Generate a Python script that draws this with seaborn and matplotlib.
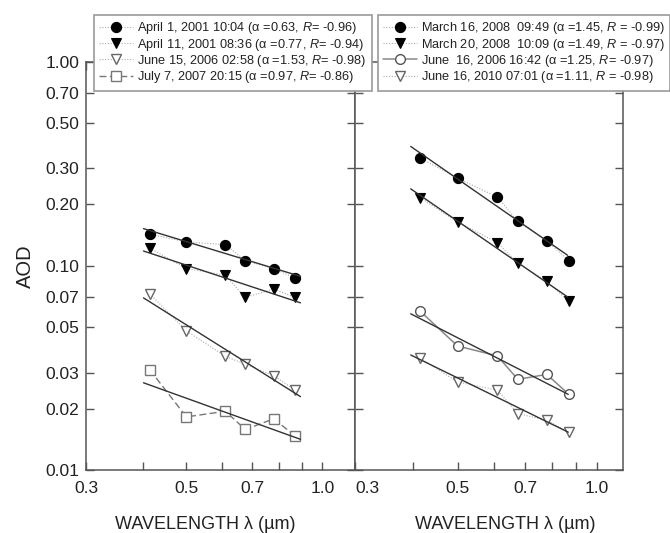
import numpy as np
import pandas as pd
import matplotlib
matplotlib.use("Agg")
import matplotlib.pyplot as plt
import seaborn as sns
from matplotlib.ticker import FixedLocator, FixedFormatter, NullLocator

# ---------------- data ----------------
wavelength = [0.415, 0.5, 0.61, 0.675, 0.78, 0.87]

# left panel
apr01_2001 = [0.143, 0.131, 0.127, 0.106, 0.097, 0.087]
apr11_2001 = [0.122, 0.097, 0.090, 0.070, 0.077, 0.070]
jun15_2006 = [0.073, 0.048, 0.036, 0.033, 0.029, 0.0246]
jul07_2007 = [0.031, 0.0182, 0.0194, 0.0158, 0.0178, 0.0147]
left_labels = [
    "April 1, 2001 10:04 (\u03b1 =0.63, $R$= -0.96)",
    "April 11, 2001 08:36 (\u03b1 =0.77, $R$= -0.94)",
    "June 15, 2006 02:58 (\u03b1 =1.53, $R$= -0.98)",
    "July 7, 2007 20:15 (\u03b1 =0.97, $R$= -0.86)",
]

# right panel
mar16_2008 = [0.338, 0.269, 0.217, 0.165, 0.1325, 0.106]
mar20_2008 = [0.216, 0.164, 0.130, 0.103, 0.084, 0.067]
jun16_2006 = [0.060, 0.0405, 0.0362, 0.0278, 0.0294, 0.0235]
jun16_2010 = [0.0353, 0.027, 0.0246, 0.0189, 0.0175, 0.0153]
right_labels = [
    "March 16, 2008  09:49 (\u03b1 =1.45, $R$ = -0.99)",
    "March 20, 2008  10:09 (\u03b1 =1.49, $R$ = -0.97)",
    "June  16, 2006 16:42 (\u03b1 =1.25, $R$= -0.97)",
    "June 16, 2010 07:01 (\u03b1 =1.11, $R$ = -0.98)",
]

y_ticks = [0.01, 0.02, 0.03, 0.05, 0.07, 0.1, 0.2, 0.3, 0.5, 0.7, 1.0]
y_ticklabels = ["0.01", "0.02", "0.03", "0.05", "0.07", "0.10", "0.20", "0.30", "0.50", "0.70", "1.00"]
x_ticks = [0.3, 0.4, 0.5, 0.6, 0.7, 0.8, 0.9, 1.0]
x_ticklabels = ["0.3", "", "0.5", "", "0.7", "", "", "1.0"]

# ---------------- style ----------------
sns.set_style("ticks")
plt.rcParams["font.family"] = ["Liberation Sans", "DejaVu Sans"]
plt.rcParams["mathtext.fontset"] = "custom"
plt.rcParams["mathtext.rm"] = "Liberation Sans"
plt.rcParams["mathtext.it"] = "Liberation Sans:italic"
TXT = "#222222"
SPINE = "#555555"

fig = plt.figure(figsize=(6.7, 5.33), dpi=100)
W, H = 670, 533
ax1 = fig.add_axes([86 / W, 63 / H, 269 / W, 408.3 / H])
ax2 = fig.add_axes([355 / W, 63 / H, 268 / W, 408.3 / H])

series_styles = {
    "filled_circle": dict(marker="o", ms=7.3, mfc="black", mec="black", mew=0.8,
                          ls=(0, (1, 1.5)), lw=0.8, color="#aaaaaa"),
    "filled_tri": dict(marker="v", ms=7.3, mfc="black", mec="black", mew=0.8,
                       ls=(0, (1, 1.5)), lw=0.8, color="#aaaaaa"),
    "open_tri": dict(marker="v", ms=6.5, mfc="white", mec="#666666", mew=1.0,
                     ls=(0, (1, 1.5)), lw=0.8, color="#aaaaaa"),
    "open_square": dict(marker="s", ms=6.5, mfc="white", mec="#777777", mew=1.0,
                        ls=(0, (5, 2.5)), lw=1.0, color="#777777"),
    "open_circle": dict(marker="o", ms=7, mfc="white", mec="#555555", mew=1.0,
                        ls="-", lw=1.1, color="#888888"),
}


def draw_series(ax, values, label, style, fit_range):
    df = pd.DataFrame({"wl": wavelength, "aod": values})
    sns.lineplot(data=df, x="wl", y="aod", ax=ax, label=label, sort=False,
                 estimator=None, **style)
    # power-law (Angstrom) fit in log-log space
    slope, intercept = np.polyfit(np.log10(df["wl"]), np.log10(df["aod"]), 1)
    xf = np.array(fit_range)
    fit_df = pd.DataFrame({"wl": xf, "aod": 10 ** (intercept + slope * np.log10(xf))})
    sns.lineplot(data=fit_df, x="wl", y="aod", ax=ax, color="#333333", lw=1.0,
                 label="_nolegend_", estimator=None)


left_fit = (0.402, 0.894)
right_fit = (0.396, 0.865)
draw_series(ax1, apr01_2001, left_labels[0], series_styles["filled_circle"], left_fit)
draw_series(ax1, apr11_2001, left_labels[1], series_styles["filled_tri"], left_fit)
draw_series(ax1, jun15_2006, left_labels[2], series_styles["open_tri"], left_fit)
draw_series(ax1, jul07_2007, left_labels[3], series_styles["open_square"], left_fit)

draw_series(ax2, mar16_2008, right_labels[0], series_styles["filled_circle"], right_fit)
draw_series(ax2, mar20_2008, right_labels[1], series_styles["filled_tri"], right_fit)
draw_series(ax2, jun16_2006, right_labels[2], series_styles["open_circle"], (0.396, 0.868))
draw_series(ax2, jun16_2010, right_labels[3], series_styles["open_tri"], (0.396, 0.868))

for ax, xlim in ((ax1, (0.3, 1.18)), (ax2, (0.3, 1.14))):
    ax.set_xscale("log")
    ax.set_yscale("log")
    ax.set_xlim(*xlim)
    ax.set_ylim(0.01, 1.0)
    ax.xaxis.set_major_locator(FixedLocator(x_ticks))
    ax.xaxis.set_major_formatter(FixedFormatter(x_ticklabels))
    ax.xaxis.set_minor_locator(NullLocator())
    ax.yaxis.set_major_locator(FixedLocator(y_ticks))
    ax.yaxis.set_minor_locator(NullLocator())
    ax.tick_params(which="both", direction="in", top=True, right=True,
                   length=6, width=1.0, color=SPINE, labelcolor=TXT,
                   labelsize=12.5)
    ax.tick_params(axis="x", pad=8)
    ax.tick_params(axis="y", pad=5)
    for sp in ax.spines.values():
        sp.set_color(SPINE)
        sp.set_linewidth(1.1)
    ax.set_xlabel("WAVELENGTH \u03bb (\u00b5m)", fontsize=13, color=TXT)
    ax.get_legend().remove()

ax1.yaxis.set_major_formatter(FixedFormatter(y_ticklabels))
ax2.yaxis.set_major_formatter(FixedFormatter([""] * len(y_ticks)))
ax1.set_ylabel("AOD", fontsize=14.5, color=TXT)
ax2.set_ylabel("")
ax1.yaxis.set_label_coords(-0.19, 0.5)
ax1.xaxis.set_label_coords(0.444, -0.113)
ax2.xaxis.set_label_coords(0.56, -0.113)
ax2.xaxis.get_major_ticks()[0].label1.set_horizontalalignment("left")

legend_kw = dict(loc="upper left", fontsize=9.2, frameon=True, fancybox=False,
                 framealpha=1, edgecolor="#999999", borderpad=0.42,
                 labelspacing=0.02, handlelength=2.6, handletextpad=0.35,
                 borderaxespad=0, labelcolor=TXT)
h1, l1 = ax1.get_legend_handles_labels()
h2, l2 = ax2.get_legend_handles_labels()
lg1 = fig.legend(h1, l1, bbox_to_anchor=(94 / W, 1 - 15 / H), **legend_kw)
lg2 = fig.legend(h2, l2, bbox_to_anchor=(378 / W, 1 - 15 / H), **legend_kw)
for lg in (lg1, lg2):
    lg.get_frame().set_linewidth(1.2)

fig.savefig("out.png", dpi=100)
